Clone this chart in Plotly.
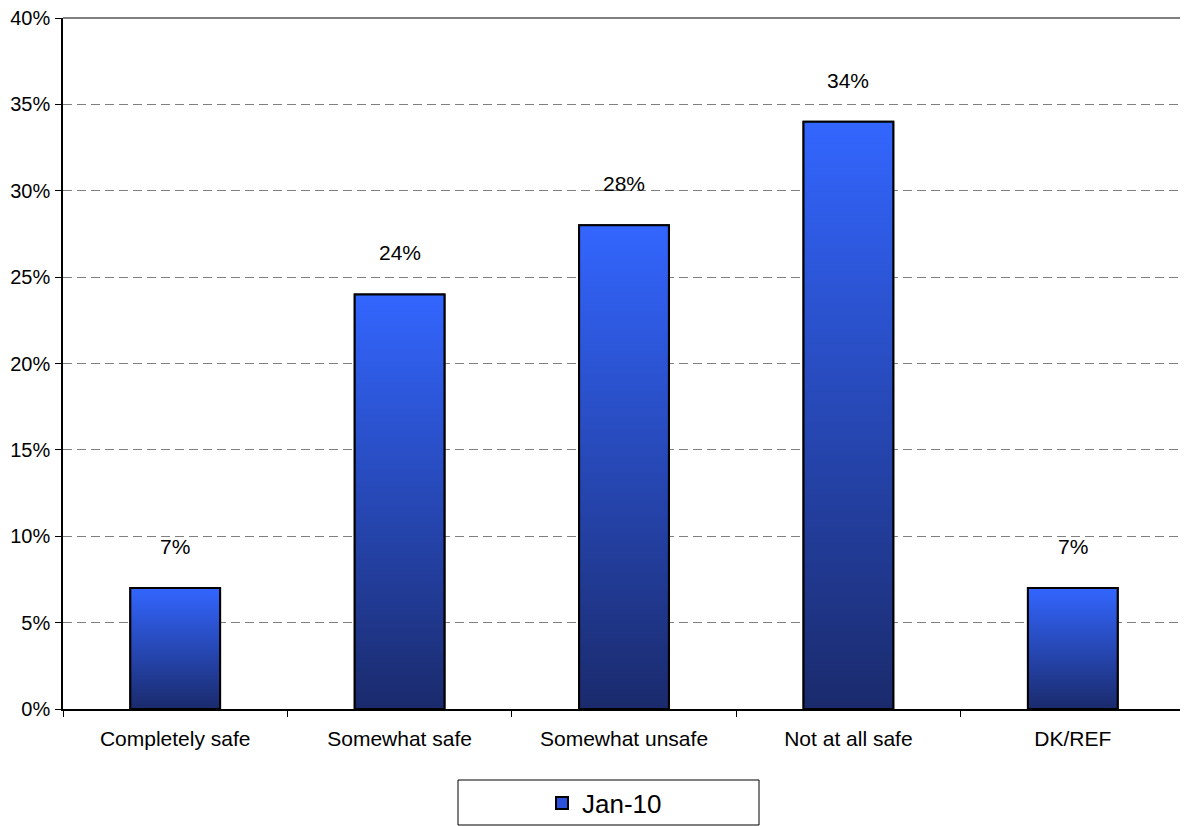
import plotly.graph_objects as go

categories = ["Completely safe", "Somewhat safe", "Somewhat unsafe", "Not at all safe", "DK/REF"]
values = [7, 24, 28, 34, 7]
series_name = "Jan-10"
y_ticks = [0, 5, 10, 15, 20, 25, 30, 35, 40]

FONT = "Arial, Liberation Sans, sans-serif"
BAR_W = 0.4
DARK = "#1a2a6c"
BRIGHT = "#3366ff"

fig = go.Figure()

# Base bar trace (gives legend entry, sits under gradient overlay)
fig.add_trace(go.Bar(
    x=categories, y=values, name=series_name, width=BAR_W,
    marker=dict(color="#2c52dc", line=dict(color="black", width=2)),
    hoverinfo="skip", showlegend=True,
))

# Gradient overlay for each bar on a numeric twin axis
for i, v in enumerate(values):
    fig.add_trace(go.Scatter(
        x=[i - BAR_W / 2, i + BAR_W / 2, i + BAR_W / 2, i - BAR_W / 2, i - BAR_W / 2],
        y=[0, 0, v, v, 0],
        xaxis="x2", yaxis="y",
        mode="lines", fill="toself",
        fillgradient=dict(type="vertical", colorscale=[[0, DARK], [1, BRIGHT]]),
        line=dict(color="black", width=2),
        showlegend=False, hoverinfo="skip",
    ))

# value labels
for c, v in zip(categories, values):
    fig.add_annotation(x=c, y=v, text=f"{v}%", showarrow=False, xref="x", yref="y",
                       yanchor="bottom", yshift=28, font=dict(size=21, color="black", family=FONT))

# page has an 8px body margin; figure is sized to the remaining area
OFF = 8
W, H = 1188 - OFF, 826 - OFF
L, R, T, B = 63 - OFF, 3, 18 - OFF, 826 - 709
pw, ph = W - L - R, H - T - B

def px_x(px):
    return (px - OFF - L) / pw

def px_y(py):
    return (H - B - (py - OFF)) / ph

shapes = [
    dict(type="line", xref="paper", yref="paper", x0=0, x1=1, y0=1, y1=1,
         line=dict(color="#808080", width=2)),
    dict(type="line", xref="paper", yref="paper", x0=1, x1=1, y0=0, y1=1,
         line=dict(color="#808080", width=2)),
    dict(type="rect", xref="paper", yref="paper", x0=px_x(458), x1=px_x(759),
         y0=px_y(825), y1=px_y(780), line=dict(color="black", width=1), fillcolor="rgba(0,0,0,0)"),
]

fig.update_layout(
    width=W, height=H,
    margin=dict(l=L, r=R, t=T, b=B, pad=0, autoexpand=False),
    paper_bgcolor="white", plot_bgcolor="white",
    font=dict(family=FONT, size=21, color="black"),
    bargap=0.6,
    xaxis=dict(
        type="category", range=[-0.5, 4.5], tickson="boundaries",
        ticks="outside", ticklen=6, tickcolor="black", tickwidth=1,
        showline=True, linecolor="black", linewidth=1.5,
        showgrid=False, tickfont=dict(size=21), fixedrange=True,
        ticklabelstandoff=10, automargin=False,
    ),
    xaxis2=dict(overlaying="x", range=[-0.5, 4.5], visible=False, anchor="y"),
    yaxis=dict(
        range=[0, 40], tickvals=y_ticks, ticktext=[f"{t}%" for t in y_ticks],
        ticks="outside", ticklen=6, tickcolor="black", tickwidth=1,
        showline=True, linecolor="black", linewidth=1.5,
        showgrid=True, gridcolor="#808080", gridwidth=1, griddash="9px,5px",
        zeroline=False, tickfont=dict(size=20), ticklabelstandoff=1,
        ticklabeloverflow="allow", automargin=False,
    ),
    legend=dict(
        orientation="h", x=px_x(542), xanchor="left", y=px_y(803), yanchor="middle",
        font=dict(size=26), bgcolor="rgba(0,0,0,0)", borderwidth=0,
    ),
    shapes=shapes,
    showlegend=True,
)

fig.write_html("out.html")
